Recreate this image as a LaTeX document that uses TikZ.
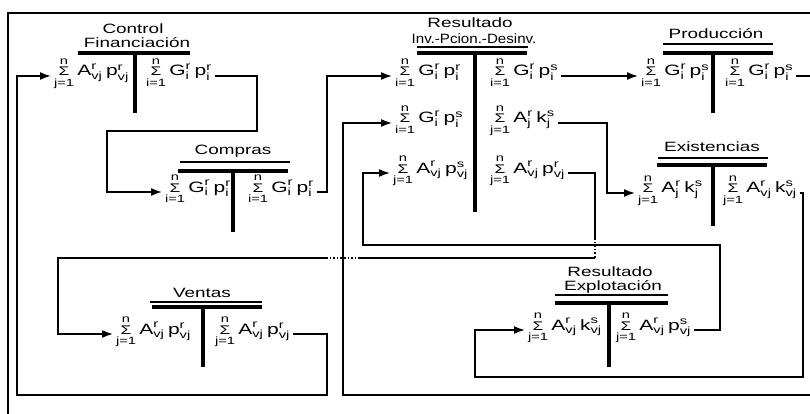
\documentclass[tikz,border=0pt]{standalone}
\usepackage{amsmath}
\usepackage{fontspec}
\setmainfont{Liberation Sans}
\usetikzlibrary{arrows.meta}

\newcommand{\sig}[1]{\mathop{\text{\fontsize{12.5}{12}\selectfont Σ}}\limits_{\text{#1=1}}^{\text{n}}}
\newcommand{\fv}[3]{\text{#1}^{\text{#2}}_{\text{#3}}}
\newcommand{\fml}[1]{\scalebox{1.4}[1]{$#1$}}
\newcommand{\ttl}[1]{\scalebox{1.4}[1]{#1}}

\begin{document}
\begin{tikzpicture}[x=1pt,y=-1pt,
    formula/.style={inner sep=0pt,outer sep=3pt,anchor=base west,font=\fontsize{15}{17}\selectfont},
    title/.style={inner sep=0pt,font=\fontsize{13.5}{15}\selectfont},
    bar/.style={line width=4pt},
    thinbar/.style={line width=2.6pt},
    stem/.style={line width=4pt},
    link/.style={line width=1.6pt},
    arr/.style={link,-{Latex[length=11pt,width=8pt]}},
    gap/.style={line width=1.6pt,dotted}]
  \useasboundingbox (0,0) rectangle (810,414);
  \clip (0,0) rectangle (810,414);
  \draw[line width=1.2pt] (812,13) -- (8,13) -- (8,416);

  % Control Financiacion
  \node[title] (cf-t1) at (133,29) {\ttl{Control}};
  \node[title] (cf-t2) at (137,43) {\ttl{Financiación}};
  \draw[bar] (78,53) -- (190,53);
  \draw[stem] (135,53) -- (135,113);
  \node[formula] (cf-l) at (51,76) {\fml{\sig{j}\fv{A}{r}{vj}\,\fv{p}{r}{vj}}};
  \node[formula] (cf-r) at (143,76) {\fml{\sig{i}\fv{G}{r}{i}\,\fv{p}{r}{i}}};

  % Compras
  \node[title] (co-t) at (233,151) {\ttl{Compras}};
  \draw[thinbar] (180,162) -- (290,162);
  \draw[bar] (178,171) -- (288,171);
  \draw[stem] (233,171) -- (233,232);
  \node[formula] (co-l) at (162,192) {\fml{\sig{i}\fv{G}{r}{i}\,\fv{p}{r}{i}}};
  \node[formula] (co-r) at (245,192) {\fml{\sig{i}\fv{G}{r}{i}\,\fv{p}{r}{i}}};

  % Resultado Inv.-Pcion.-Desinv.
  \node[title] (ri-t1) at (470,23) {\ttl{Resultado}};
  \node[title] (ri-t2) at (474,39) {\scalebox{1.12}[1]{Inv.-Pcion.-Desinv.}};
  \draw[thinbar] (417,47) -- (528,47);
  \draw[bar] (417,53) -- (527,53);
  \draw[stem] (475,53) -- (475,212);
  \node[formula] (ri-l1) at (392,76) {\fml{\sig{i}\fv{G}{r}{i}\,\fv{p}{r}{i}}};
  \node[formula] (ri-r1) at (487,76) {\fml{\sig{i}\fv{G}{r}{i}\,\fv{p}{s}{i}}};
  \node[formula] (ri-l2) at (392,123) {\fml{\sig{i}\fv{G}{r}{i}\,\fv{p}{s}{i}}};
  \node[formula] (ri-r2) at (487,123) {\fml{\sig{j}\fv{A}{r}{j}\,\fv{k}{s}{j}}};
  \node[formula] (ri-l3) at (390,173) {\fml{\sig{j}\fv{A}{r}{vj}\,\fv{p}{s}{vj}}};
  \node[formula] (ri-r3) at (487,173) {\fml{\sig{j}\fv{A}{r}{vj}\,\fv{p}{r}{vj}}};

  % Produccion
  \node[title] (pr-t) at (716,34) {\ttl{Producción}};
  \draw[thinbar] (663,44) -- (773,44);
  \draw[bar] (663,53) -- (773,53);
  \draw[stem] (713,53) -- (713,113);
  \node[formula] (pr-l) at (638,76) {\fml{\sig{i}\fv{G}{r}{i}\,\fv{p}{s}{i}}};
  \node[formula] (pr-r) at (722,76) {\fml{\sig{i}\fv{G}{r}{i}\,\fv{p}{s}{i}}};

  % Existencias
  \node[title] (ex-t) at (712,147) {\ttl{Existencias}};
  \draw[thinbar] (658,158) -- (768,158);
  \draw[bar] (657,165) -- (767,165);
  \draw[stem] (713,165) -- (713,226);
  \node[formula] (ex-l) at (635,193) {\fml{\sig{j}\fv{A}{r}{j}\,\fv{k}{s}{j}}};
  \node[formula] (ex-r) at (720,193) {\fml{\sig{j}\fv{A}{r}{vj}\,\fv{k}{s}{vj}}};

  % Resultado Explotacion
  \node[title] (re-t1) at (610,272) {\ttl{Resultado}};
  \node[title] (re-t2) at (613,287) {\ttl{Explotación}};
  \draw[thinbar] (555,295) -- (668,295);
  \draw[bar] (555,303) -- (668,303);
  \draw[stem] (609,303) -- (609,367);
  \node[formula] (re-l) at (525,330) {\fml{\sig{j}\fv{A}{r}{vj}\,\fv{k}{s}{vj}}};
  \node[formula] (re-r) at (613,330) {\fml{\sig{j}\fv{A}{r}{vj}\,\fv{p}{s}{vj}}};

  % Ventas
  \node[title] (ve-t) at (202,293) {\ttl{Ventas}};
  \draw[thinbar] (150,302) -- (262,302);
  \draw[bar] (152,307) -- (262,307);
  \draw[stem] (203,307) -- (203,367);
  \node[formula] (ve-l) at (113,334) {\fml{\sig{j}\fv{A}{r}{vj}\,\fv{p}{r}{vj}}};
  \node[formula] (ve-r) at (212,334) {\fml{\sig{j}\fv{A}{r}{vj}\,\fv{p}{r}{vj}}};

  % flows
  \draw[arr] (ve-r.base east) -| (327,395) -| (17,76) -- (cf-l.base west);
  \draw[arr] (cf-r.base east) -| (257,131) -| (107,192) -- (co-l.base west);
  \draw[arr] (co-r.base east) -| (327,76) -- (ri-l1.base west);
  \draw[arr] (ri-r1.base east) -- (pr-l.base west);
  \draw[arr] (pr-r.base east) -| (812,395) -| (343,123) -- (ri-l2.base west);
  \draw[arr] (ri-r2.base east) -| (607,193) -- (ex-l.base west);
  \draw[arr] (ex-r.base east) -| (803,377) -| (475,330) -- (re-l.base west);
  \draw[arr] (re-r.base east) -| (720,245) -| (363,173) -- (ri-l3.base west);
  \draw[link] (ri-r3.base east) -| (595,238);
  \draw[gap] (595,238) -- (595,258);
  \draw[link] (595,258) -- (360,258);
  \draw[gap] (360,258) -- (328,258);
  \draw[arr] (328,258) -| (58,334) -- (ve-l.base west);
\end{tikzpicture}
\end{document}
